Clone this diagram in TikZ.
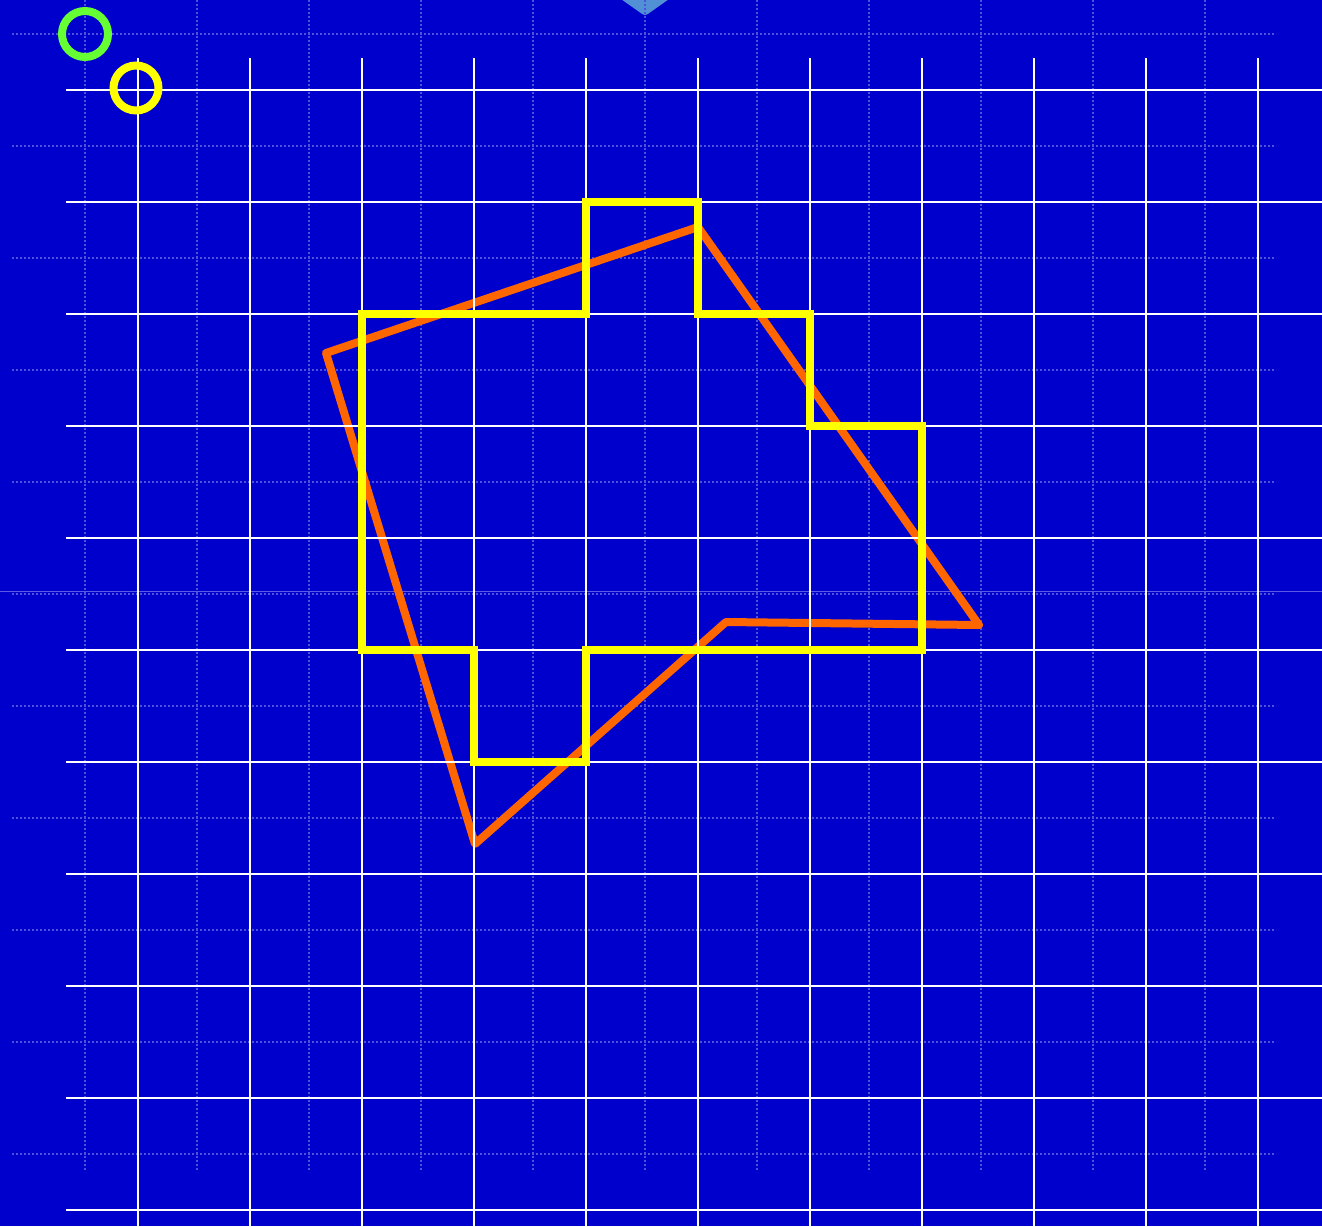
\documentclass[tikz,border=0pt]{standalone}
\definecolor{bgblue}{HTML}{0000CC}
\definecolor{dotblue}{HTML}{5050DC}
\definecolor{thinblue}{HTML}{5A5AE6}
\definecolor{diamondblue}{HTML}{5290D6}
\definecolor{orangeln}{HTML}{FF6600}
\definecolor{yellowln}{HTML}{FFFF00}
\definecolor{greenln}{HTML}{66FF33}
\tikzset{
  minorgrid/.style={dotblue, line width=1.7pt, dash pattern=on 2pt off 2pt},
  majorgrid/.style={white, line width=1.8pt},
  outlineshape/.style={line width=8pt, line join=miter},
}
\begin{document}
\begin{tikzpicture}[x=1pt,y=-1pt]
\fill[bgblue] (0,0) rectangle (1322,1226);
\useasboundingbox (0,0) rectangle (1322,1226);
% diamond at top
\begin{scope}
\clip (0,0) rectangle (1322,1226);
\fill[diamondblue, rounded corners=3pt] (645,16) -- (611,-8) -- (645,-32) -- (679,-8) -- cycle;
\end{scope}
% minor dotted grid
\foreach \k in {0,...,10} {
  \draw[minorgrid] (85+112*\k,0) -- (85+112*\k,1170);
  \draw[minorgrid] (12,34+112*\k) -- (1276,34+112*\k);
}
\draw[thinblue, line width=1pt] (0,591) -- (1322,591);
% orange polygon
\coordinate (o1) at (326,353);
\coordinate (o2) at (698,227);
\coordinate (o3) at (979,625);
\coordinate (o4) at (726,622);
\coordinate (o5) at (475,844);
\draw[outlineshape, orangeln, line join=round] (o1) -- (o2) -- (o3) -- (o4) -- (o5) -- cycle;
% major white grid
\foreach \k in {0,...,10} {
  \draw[majorgrid] (138+112*\k,58) -- (138+112*\k,1226);
  \draw[majorgrid] (66,90+112*\k) -- (1322,90+112*\k);
}
% yellow polygon
\coordinate (y1) at (362,314);
\coordinate (y2) at (586,314);
\coordinate (y3) at (586,202);
\coordinate (y4) at (698,202);
\coordinate (y5) at (698,314);
\coordinate (y6) at (810,314);
\coordinate (y7) at (810,426);
\coordinate (y8) at (922,426);
\coordinate (y9) at (922,650);
\coordinate (y10) at (586,650);
\coordinate (y11) at (586,762);
\coordinate (y12) at (474,762);
\coordinate (y13) at (474,650);
\coordinate (y14) at (362,650);
\draw[outlineshape, yellowln] (y1) -- (y2) -- (y3) -- (y4) -- (y5) -- (y6) -- (y7) -- (y8) -- (y9) -- (y10) -- (y11) -- (y12) -- (y13) -- (y14) -- cycle;
% circles
\node[circle, draw=greenln, line width=8pt, minimum size=46pt, inner sep=0pt] (gc) at (85,34) {};
\node[circle, draw=yellowln, line width=8pt, minimum size=45pt, inner sep=0pt] (yc) at (136,88) {};
\end{tikzpicture}
\end{document}
